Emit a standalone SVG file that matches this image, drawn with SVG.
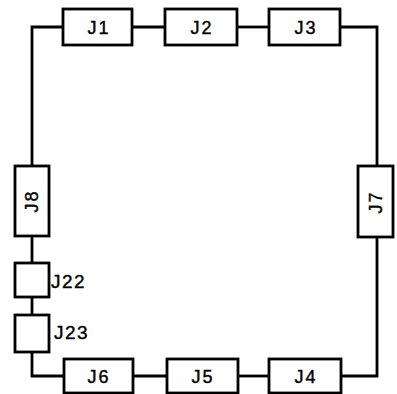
<svg xmlns="http://www.w3.org/2000/svg" width="397" height="394" viewBox="0 0 397 394">
<style>
.box{fill:#fff;stroke:#000;stroke-width:2.8}
.wire{fill:none;stroke:#000;stroke-width:2.8}
.lbl{font-family:"Liberation Sans",Arial,sans-serif;font-size:18px;fill:#000;stroke:#000;stroke-width:0.4;text-anchor:middle;letter-spacing:2px}
.side{font-family:"Liberation Sans",Arial,sans-serif;font-size:19px;fill:#000;stroke:#000;stroke-width:0.4;letter-spacing:1.5px}
</style>
<rect width="397" height="394" fill="#fff"/>
<g id="connectors">
<path class="wire" d="M63 27 H32 V166"/>
<path class="wire" d="M132 27 H165"/>
<path class="wire" d="M237 27 H269"/>
<path class="wire" d="M340 27 H377 V166"/>
<path class="wire" d="M377 237 V376 H341"/>
<path class="wire" d="M269 376 H238"/>
<path class="wire" d="M167 376 H133"/>
<path class="wire" d="M64 376 H32 V352"/>
<path class="wire" d="M32 236 V263"/>
<path class="wire" d="M32 297 V315"/>
</g>
<g id="J1"><rect class="box" x="63" y="9" width="69" height="36"/><text class="lbl" x="99" y="34">J1</text></g>
<g id="J2"><rect class="box" x="165" y="9" width="72" height="36"/><text class="lbl" x="202" y="34">J2</text></g>
<g id="J3"><rect class="box" x="269" y="9" width="71" height="36"/><text class="lbl" x="306" y="34">J3</text></g>
<g id="J7"><rect class="box" x="358" y="166" width="35" height="71"/><text class="lbl" transform="translate(382 202) rotate(-90)">J7</text></g>
<g id="J4"><rect class="box" x="269" y="359" width="72" height="34"/><text class="lbl" x="306" y="383">J4</text></g>
<g id="J5"><rect class="box" x="167" y="359" width="71" height="34"/><text class="lbl" x="203" y="383">J5</text></g>
<g id="J6"><rect class="box" x="64" y="359" width="69" height="34"/><text class="lbl" x="99" y="383">J6</text></g>
<g id="J8"><rect class="box" x="15" y="166" width="34" height="70"/><text class="lbl" transform="translate(38 201) rotate(-90)">J8</text></g>
<g id="J22"><rect class="box" x="15" y="263" width="34" height="34"/><text class="side" x="51" y="288">J22</text></g>
<g id="J23"><rect class="box" x="15" y="315" width="34" height="37"/><text class="side" x="54" y="339">J23</text></g>
</svg>
